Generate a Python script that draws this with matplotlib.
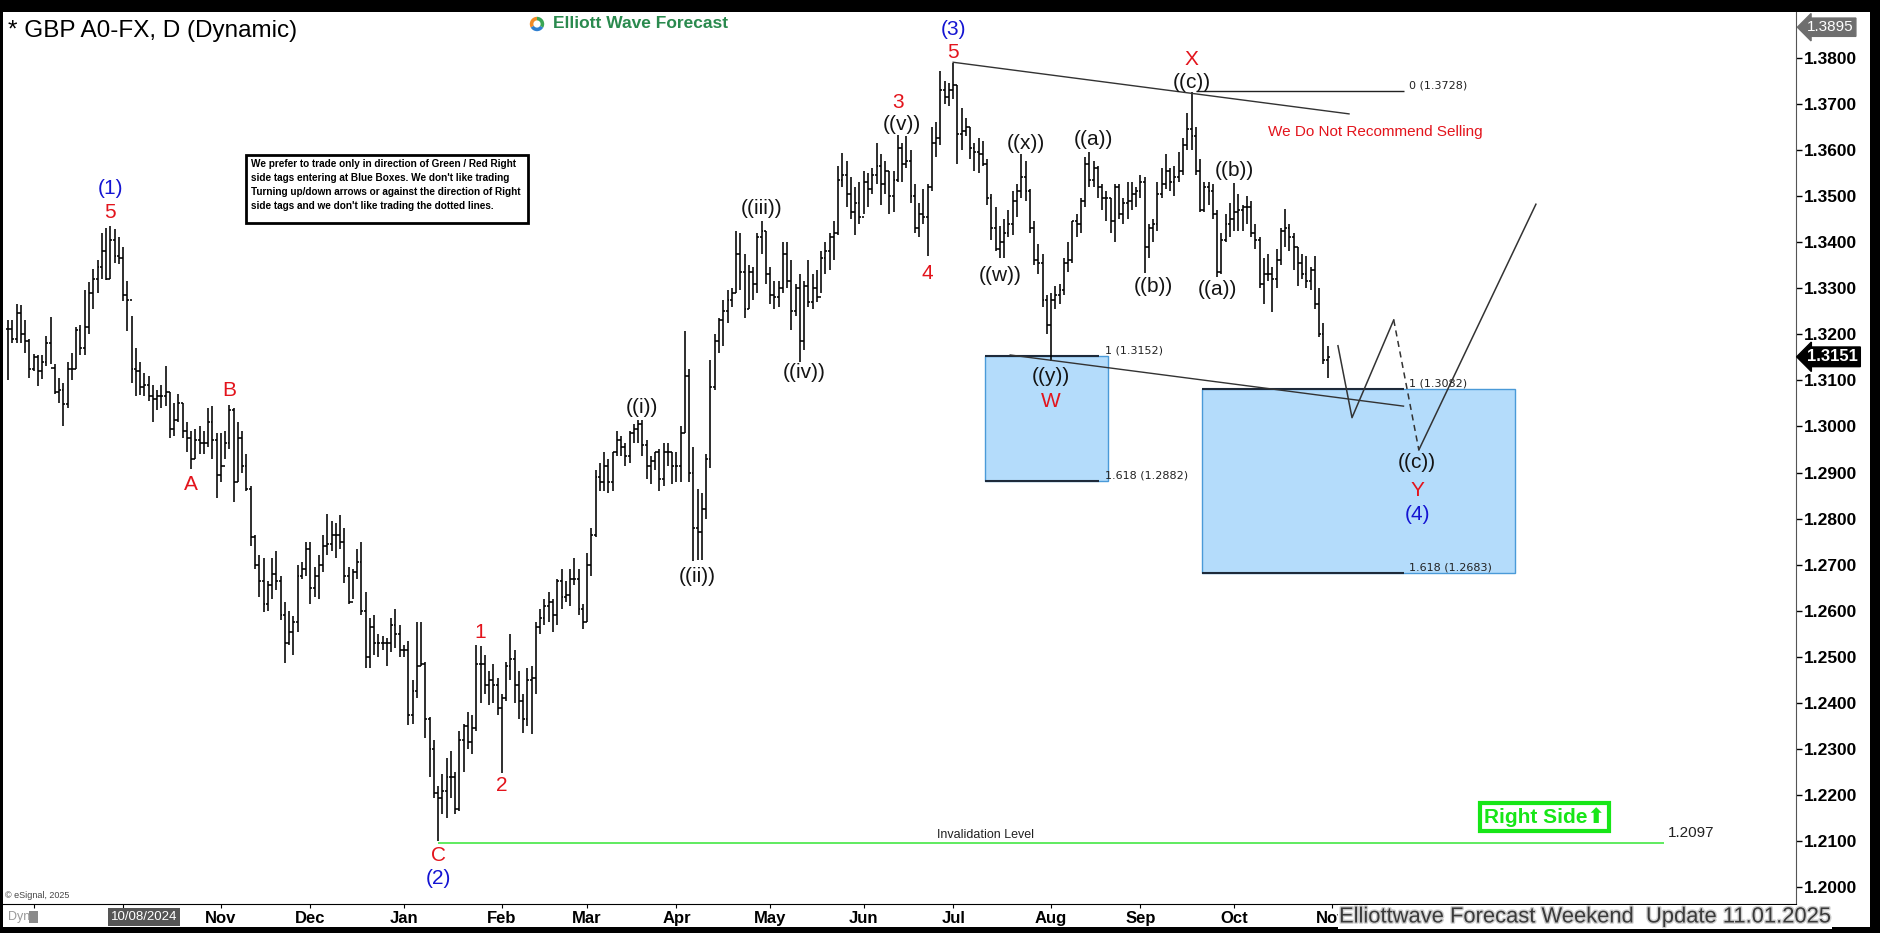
"""
GBP/USD daily bars with Elliott Wave count (weekend update 11.01.2025).
"""

import numpy as np
import pandas as pd
import matplotlib
matplotlib.use('Agg')
import matplotlib.pyplot as plt
from matplotlib.patches import Rectangle
from matplotlib import patheffects
from matplotlib.transforms import blended_transform_factory

plt.rcParams['font.family'] = ['Liberation Sans', 'DejaVu Sans']

# daily bars as (high, low, close), one list per month
aug24 = [(1.3230, 1.3100, 1.3212), (1.3230, 1.3180, 1.3190), (1.3266, 1.3180, 1.3245),
         (1.3264, 1.3180, 1.3200), (1.3230, 1.3160, 1.3185), (1.3190, 1.3105, 1.3125)]
sep24 = [(1.3157, 1.3120, 1.3150), (1.3155, 1.3088, 1.3120), (1.3155, 1.3103, 1.3140),
         (1.3197, 1.3130, 1.3180), (1.3238, 1.3135, 1.3127), (1.3135, 1.3070, 1.3075),
         (1.3105, 1.3050, 1.3080), (1.3095, 1.3002, 1.3048), (1.3139, 1.3040, 1.3125),
         (1.3160, 1.3100, 1.3125), (1.3215, 1.3125, 1.3210), (1.3220, 1.3155, 1.3170),
         (1.3297, 1.3155, 1.3215), (1.3314, 1.3200, 1.3290), (1.3342, 1.3255, 1.3320),
         (1.3360, 1.3290, 1.3345), (1.3420, 1.3320, 1.3380), (1.3430, 1.3318, 1.3320),
         (1.3434, 1.3320, 1.3405), (1.3428, 1.3354, 1.3370), (1.3410, 1.3353, 1.3365)]
oct24 = [(1.3390, 1.3271, 1.3285), (1.3315, 1.3207, 1.3275), (1.3240, 1.3095, 1.3125),
         (1.3170, 1.3067, 1.3120), (1.3140, 1.3068, 1.3085), (1.3115, 1.3066, 1.3090),
         (1.3110, 1.3055, 1.3065), (1.3090, 1.3010, 1.3060), (1.3080, 1.3035, 1.3065),
         (1.3090, 1.3040, 1.3065), (1.3130, 1.3045, 1.3075), (1.3075, 1.2975, 1.2995),
         (1.3050, 1.2980, 1.3015), (1.3070, 1.3010, 1.3050), (1.3050, 1.2975, 1.2990),
         (1.3010, 1.2945, 1.2975), (1.2990, 1.2907, 1.2930), (1.2995, 1.2930, 1.2970),
         (1.3000, 1.2940, 1.2965), (1.2990, 1.2940, 1.2965), (1.3040, 1.2955, 1.3010),
         (1.3045, 1.2930, 1.2970), (1.2985, 1.2845, 1.2895)]
nov24 = [(1.2985, 1.2880, 1.2915), (1.2990, 1.2930, 1.2965), (1.3047, 1.2950, 1.3035),
         (1.3040, 1.2835, 1.2880), (1.3010, 1.2880, 1.2975), (1.2990, 1.2900, 1.2915),
         (1.2940, 1.2860, 1.2865), (1.2870, 1.2740, 1.2760), (1.2765, 1.2690, 1.2700),
         (1.2720, 1.2630, 1.2665), (1.2715, 1.2597, 1.2615), (1.2665, 1.2600, 1.2655),
         (1.2715, 1.2625, 1.2680), (1.2730, 1.2645, 1.2665), (1.2675, 1.2580, 1.2590),
         (1.2620, 1.2487, 1.2530), (1.2600, 1.2525, 1.2555), (1.2588, 1.2505, 1.2575),
         (1.2700, 1.2555, 1.2675), (1.2705, 1.2670, 1.2690), (1.2750, 1.2675, 1.2735)]
dec24 = [(1.2750, 1.2615, 1.2650), (1.2695, 1.2630, 1.2675), (1.2720, 1.2625, 1.2700),
         (1.2765, 1.2685, 1.2740), (1.2811, 1.2720, 1.2745), (1.2795, 1.2730, 1.2765),
         (1.2790, 1.2715, 1.2765), (1.2808, 1.2735, 1.2750), (1.2780, 1.2660, 1.2675),
         (1.2695, 1.2615, 1.2620), (1.2690, 1.2625, 1.2685), (1.2735, 1.2670, 1.2705),
         (1.2750, 1.2590, 1.2600), (1.2640, 1.2475, 1.2500), (1.2585, 1.2475, 1.2565),
         (1.2590, 1.2505, 1.2530), (1.2550, 1.2500, 1.2530), (1.2545, 1.2515, 1.2530),
         (1.2540, 1.2480, 1.2530), (1.2585, 1.2510, 1.2570), (1.2605, 1.2520, 1.2550),
         (1.2570, 1.2500, 1.2515)]
jan25 = [(1.2525, 1.2500, 1.2515), (1.2535, 1.2352, 1.2375), (1.2450, 1.2355, 1.2425),
         (1.2575, 1.2410, 1.2480), (1.2575, 1.2480, 1.2485), (1.2490, 1.2325, 1.2365),
         (1.2370, 1.2240, 1.2300), (1.2320, 1.2195, 1.2205), (1.2220, 1.2100, 1.2195),
         (1.2245, 1.2160, 1.2210), (1.2280, 1.2150, 1.2240), (1.2295, 1.2195, 1.2240),
         (1.2250, 1.2160, 1.2170), (1.2340, 1.2165, 1.2320), (1.2355, 1.2250, 1.2350),
         (1.2380, 1.2300, 1.2315), (1.2375, 1.2290, 1.2345), (1.2525, 1.2340, 1.2485),
         (1.2523, 1.2400, 1.2485), (1.2505, 1.2420, 1.2440), (1.2470, 1.2395, 1.2450),
         (1.2485, 1.2400, 1.2440), (1.2455, 1.2375, 1.2390)]
feb25 = [(1.2420, 1.2249, 1.2410), (1.2490, 1.2405, 1.2480), (1.2550, 1.2450, 1.2495),
         (1.2515, 1.2400, 1.2440), (1.2470, 1.2365, 1.2405), (1.2420, 1.2335, 1.2365),
         (1.2475, 1.2350, 1.2450), (1.2480, 1.2333, 1.2455), (1.2575, 1.2420, 1.2565),
         (1.2605, 1.2550, 1.2585), (1.2625, 1.2570, 1.2610), (1.2640, 1.2575, 1.2620),
         (1.2625, 1.2555, 1.2590), (1.2670, 1.2570, 1.2665), (1.2690, 1.2605, 1.2630),
         (1.2665, 1.2620, 1.2635), (1.2690, 1.2610, 1.2670), (1.2715, 1.2655, 1.2670),
         (1.2690, 1.2590, 1.2605), (1.2615, 1.2560, 1.2575)]
mar25 = [(1.2725, 1.2575, 1.2700), (1.2780, 1.2675, 1.2765), (1.2905, 1.2760, 1.2890),
         (1.2920, 1.2860, 1.2880), (1.2945, 1.2860, 1.2915), (1.2930, 1.2855, 1.2880),
         (1.2945, 1.2860, 1.2945), (1.2990, 1.2935, 1.2970), (1.2980, 1.2935, 1.2955),
         (1.2965, 1.2915, 1.2935), (1.2990, 1.2920, 1.2985), (1.3005, 1.2965, 1.2995),
         (1.3015, 1.2965, 1.3005), (1.3015, 1.2935, 1.2960), (1.2970, 1.2885, 1.2915),
         (1.2935, 1.2875, 1.2925), (1.2945, 1.2905, 1.2945), (1.2950, 1.2860, 1.2885),
         (1.2965, 1.2870, 1.2945), (1.2965, 1.2915, 1.2945), (1.2945, 1.2875, 1.2915)]
apr25 = [(1.2945, 1.2880, 1.2915), (1.3000, 1.2880, 1.2985), (1.3207, 1.2985, 1.3110),
         (1.3125, 1.2880, 1.2900), (1.2955, 1.2708, 1.2780), (1.2865, 1.2710, 1.2770),
         (1.2855, 1.2710, 1.2820), (1.2940, 1.2800, 1.2930), (1.3145, 1.2910, 1.3085),
         (1.3200, 1.3080, 1.3185), (1.3235, 1.3160, 1.3230), (1.3275, 1.3175, 1.3250),
         (1.3295, 1.3225, 1.3275), (1.3300, 1.3260, 1.3290), (1.3423, 1.3290, 1.3375),
         (1.3420, 1.3295, 1.3335), (1.3375, 1.3235, 1.3255), (1.3350, 1.3255, 1.3335),
         (1.3345, 1.3275, 1.3310), (1.3420, 1.3290, 1.3410), (1.3445, 1.3375, 1.3425),
         (1.3425, 1.3310, 1.3330)]
may25 = [(1.3345, 1.3265, 1.3285), (1.3315, 1.3255, 1.3280), (1.3315, 1.3260, 1.3300),
         (1.3400, 1.3290, 1.3375), (1.3400, 1.3300, 1.3315), (1.3360, 1.3210, 1.3250),
         (1.3310, 1.3240, 1.3300), (1.3330, 1.3139, 1.3185), (1.3315, 1.3165, 1.3305),
         (1.3360, 1.3260, 1.3270), (1.3330, 1.3255, 1.3300), (1.3340, 1.3270, 1.3280),
         (1.3380, 1.3290, 1.3365), (1.3400, 1.3330, 1.3380), (1.3420, 1.3340, 1.3410),
         (1.3445, 1.3360, 1.3420), (1.3565, 1.3415, 1.3535), (1.3593, 1.3520, 1.3545),
         (1.3575, 1.3475, 1.3505), (1.3540, 1.3450, 1.3465), (1.3520, 1.3415, 1.3485),
         (1.3530, 1.3440, 1.3455)]
jun25 = [(1.3555, 1.3460, 1.3530), (1.3550, 1.3475, 1.3515), (1.3560, 1.3505, 1.3545),
         (1.3615, 1.3525, 1.3565), (1.3590, 1.3480, 1.3525), (1.3575, 1.3505, 1.3555),
         (1.3555, 1.3460, 1.3500), (1.3555, 1.3465, 1.3535), (1.3632, 1.3530, 1.3605),
         (1.3615, 1.3530, 1.3570), (1.3630, 1.3560, 1.3575), (1.3600, 1.3485, 1.3500),
         (1.3525, 1.3420, 1.3430), (1.3485, 1.3410, 1.3460), (1.3515, 1.3440, 1.3455),
         (1.3525, 1.3370, 1.3520), (1.3650, 1.3510, 1.3615), (1.3660, 1.3585, 1.3625),
         (1.3770, 1.3610, 1.3730), (1.3750, 1.3700, 1.3715), (1.3745, 1.3695, 1.3730)]
jul25 = [(1.3788, 1.3710, 1.3740), (1.3740, 1.3570, 1.3635), (1.3690, 1.3600, 1.3640),
         (1.3670, 1.3630, 1.3650), (1.3650, 1.3580, 1.3605), (1.3615, 1.3555, 1.3595),
         (1.3625, 1.3550, 1.3590), (1.3620, 1.3565, 1.3570), (1.3580, 1.3480, 1.3495),
         (1.3505, 1.3405, 1.3430), (1.3475, 1.3380, 1.3385), (1.3435, 1.3365, 1.3400),
         (1.3450, 1.3365, 1.3420), (1.3470, 1.3410, 1.3440), (1.3510, 1.3415, 1.3490),
         (1.3525, 1.3455, 1.3510), (1.3590, 1.3495, 1.3540), (1.3575, 1.3490, 1.3510),
         (1.3515, 1.3420, 1.3430), (1.3445, 1.3350, 1.3360), (1.3395, 1.3330, 1.3355),
         (1.3375, 1.3260, 1.3275), (1.3285, 1.3200, 1.3220)]
aug25 = [(1.3290, 1.3142, 1.3275), (1.3305, 1.3255, 1.3285), (1.3310, 1.3265, 1.3295),
         (1.3365, 1.3285, 1.3355), (1.3400, 1.3335, 1.3360), (1.3445, 1.3355, 1.3445),
         (1.3460, 1.3410, 1.3440), (1.3495, 1.3420, 1.3490), (1.3585, 1.3475, 1.3570),
         (1.3595, 1.3520, 1.3535), (1.3575, 1.3520, 1.3560), (1.3565, 1.3495, 1.3520),
         (1.3525, 1.3470, 1.3495), (1.3510, 1.3445, 1.3495), (1.3495, 1.3420, 1.3445),
         (1.3525, 1.3400, 1.3520), (1.3525, 1.3450, 1.3460), (1.3495, 1.3440, 1.3485),
         (1.3530, 1.3450, 1.3490), (1.3530, 1.3470, 1.3505), (1.3520, 1.3475, 1.3510)]
sep25 = [(1.3545, 1.3495, 1.3530), (1.3540, 1.3333, 1.3390), (1.3440, 1.3365, 1.3430),
         (1.3450, 1.3400, 1.3440), (1.3530, 1.3425, 1.3505), (1.3560, 1.3495, 1.3525),
         (1.3590, 1.3515, 1.3555), (1.3560, 1.3510, 1.3530), (1.3565, 1.3500, 1.3540),
         (1.3595, 1.3530, 1.3555), (1.3625, 1.3545, 1.3610), (1.3680, 1.3600, 1.3645),
         (1.3726, 1.3600, 1.3630), (1.3650, 1.3545, 1.3555), (1.3580, 1.3465, 1.3470),
         (1.3530, 1.3465, 1.3520), (1.3530, 1.3480, 1.3510), (1.3525, 1.3450, 1.3460),
         (1.3470, 1.3324, 1.3335), (1.3420, 1.3330, 1.3405), (1.3460, 1.3400, 1.3440),
         (1.3485, 1.3410, 1.3450)]
oct25 = [(1.3527, 1.3425, 1.3465), (1.3505, 1.3425, 1.3470), (1.3480, 1.3425, 1.3475),
         (1.3500, 1.3440, 1.3475), (1.3490, 1.3410, 1.3420), (1.3440, 1.3385, 1.3405),
         (1.3410, 1.3300, 1.3310), (1.3365, 1.3265, 1.3330), (1.3375, 1.3315, 1.3330),
         (1.3345, 1.3248, 1.3320), (1.3385, 1.3300, 1.3360), (1.3430, 1.3350, 1.3425),
         (1.3471, 1.3390, 1.3430), (1.3440, 1.3380, 1.3410), (1.3420, 1.3340, 1.3390),
         (1.3390, 1.3305, 1.3355), (1.3375, 1.3320, 1.3330), (1.3370, 1.3300, 1.3315),
         (1.3345, 1.3295, 1.3340), (1.3370, 1.3255, 1.3265), (1.3300, 1.3195, 1.3200),
         (1.3225, 1.3135, 1.3145), (1.3175, 1.3106, 1.3151)]

first_day = '2024-08-23'
last_price = 1.3151
top_tag = 1.3895
invalidation = 1.2097

# fib levels of the two blue boxes and the X high
box_w = (1.3152, 1.2882)
box_y = (1.3082, 1.2683)
x_high = 1.3728

# wave labels: text, bar date, price, colour key
wave_labels = [
    ('(1)', '2024-09-26', 1.3517, 'b'), ('5', '2024-09-26', 1.3465, 'r'),
    ('A', '2024-10-23', 1.2873, 'r'), ('B', '2024-11-05', 1.3077, 'r'),
    ('C', '2025-01-13', 1.2070, 'r'), ('(2)', '2025-01-13', 1.2020, 'b'),
    ('1', '2025-01-27', 1.2554, 'r'), ('2', '2025-02-03', 1.2220, 'r'),
    ('((i))', '2025-03-20', 1.3040, 'k'), ('((ii))', '2025-04-08', 1.2675, 'k'),
    ('((iii))', '2025-04-29', 1.3473, 'k'), ('((iv))', '2025-05-13', 1.3116, 'k'),
    ('((v))', '2025-06-13', 1.3656, 'k'), ('3', '2025-06-12', 1.3702, 'r'),
    ('4', '2025-06-23', 1.3331, 'r'), ('5', '2025-07-01', 1.3812, 'r'),
    ('(3)', '2025-07-01', 1.3860, 'b'), ('((w))', '2025-07-16', 1.3328, 'k'),
    ('((x))', '2025-07-24', 1.3613, 'k'), ('((y))', '2025-08-01', 1.3109, 'k'),
    ('W', '2025-08-01', 1.3055, 'r'), ('((a))', '2025-08-15', 1.3623, 'k'),
    ('((b))', '2025-09-04', 1.3304, 'k'), ('X', '2025-09-17', 1.3797, 'r'),
    ('((c))', '2025-09-17', 1.3747, 'k'), ('((a))', '2025-09-25', 1.3296, 'k'),
    ('((b))', '2025-10-01', 1.3556, 'k'), ('((c))', '2025-12-01', 1.2921, 'k'),
    ('Y', '2025-12-01', 1.2862, 'r'), ('(4)', '2025-12-01', 1.2810, 'b'),
]

# projected path (bar position, price)
path_x = [312.4, 315.7, 325.5]
path_y = [1.3175, 1.3019, 1.3231]
dash_x = [325.5, 331.4]
dash_y = [1.3231, 1.2949]
up_x = [331.4, 358.9]
up_y = [1.2949, 1.3482]

COLORS = {'r': '#e3141c', 'b': '#1414d2', 'k': '#141414'}

bars = (aug24 + sep24 + oct24 + nov24 + dec24 + jan25 + feb25 + mar25 + apr25
        + may25 + jun25 + jul25 + aug25 + sep25 + oct25)
highs = np.array([b[0] for b in bars])
lows = np.array([b[1] for b in bars])
closes = np.array([b[2] for b in bars])
opens = np.r_[closes[0], closes[:-1]]   # FX bars open where the prior one closed
n = len(bars)
x = np.arange(n)
dates = pd.bdate_range(first_day, periods=n + 140)


def bar_at(day):
    return dates.get_loc(pd.Timestamp(day))


W, H = 1881, 933
fig = plt.figure(figsize=(W / 100, H / 100), dpi=100, facecolor='black')
fig.patches.append(Rectangle((3 / W, 6 / H), 1867 / W, 915 / H, transform=fig.transFigure,
                             facecolor='white', edgecolor='none', zorder=-10))
ax = fig.add_axes([3 / W, 29 / H, 1793 / W, 892 / H])
ax.set_facecolor('white')
ax.set_xlim(-1.2, 420)
ax.set_ylim(1.1964, 1.3899)

# OHLC bars
ax.vlines(x, lows, highs, color='black', lw=1.15, zorder=3)
ax.hlines(opens, x - 0.45, x, color='black', lw=1.15, zorder=3)
ax.hlines(closes, x, x + 0.45, color='black', lw=1.15, zorder=3)

# blue boxes with fib levels
for (top, bot), (x0, x1, xl) in [(box_w, (229.5, 258.4, 256.3)),
                                 (box_y, (280.4, 353.9, 327.8))]:
    ax.add_patch(Rectangle((x0, bot), x1 - x0, top - bot, facecolor='#b4dcfb',
                           edgecolor='#4a9ad8', lw=1.0, zorder=1))
    ax.hlines([top, bot], x0, xl, color='#1e2a3a', lw=1.5, zorder=2)
    ax.text(xl + 1.3, top + 0.0012, '1 (%.4f)' % top, fontsize=8, family='DejaVu Sans',
            va='center', ha='left', color='#222222')
    ax.text(xl + 1.3, bot + 0.0012, '1.618 (%.4f)' % bot, fontsize=8,
            family='DejaVu Sans', va='center', ha='left', color='#222222')

# trend lines and X level
ax.plot([222, 315], [1.3790, 1.3678], color='#333333', lw=1.0, zorder=4)
ax.plot([235.4, 327.8], [1.3155, 1.3044], color='#333333', lw=1.0, zorder=4)
ax.hlines(x_high, 279, 327.8, color='#222222', lw=1.0, zorder=4)
ax.text(329.2, x_high + 0.0012, '0 (%.4f)' % x_high, fontsize=8, family='DejaVu Sans',
        va='center', ha='left', color='#222222')
ax.text(295.9, 1.3638, 'We Do Not Recommend Selling', color='#e3141c', fontsize=11,
        va='center', ha='left')

# projected path
ax.plot(path_x, path_y, color='#333333', lw=1.1, zorder=4)
ax.plot(dash_x, dash_y, color='#333333', lw=1.1, ls=(0, (4, 3)), zorder=4)
ax.plot(up_x, up_y, color='#333333', lw=1.1, zorder=4)

# invalidation level
c_bar = bar_at('2025-01-13')
ax.hlines(invalidation, c_bar, 389, color='#44e844', lw=1.2, zorder=2)
ax.text(229.7, invalidation + 0.0004, 'Invalidation Level', fontsize=9, ha='center',
        va='bottom', color='#222222')
ax.text(390, invalidation + 0.0021, '%.4f' % invalidation, fontsize=11, ha='left',
        va='center', color='#222222')

# right side tag
ax.text(360.9, 1.2152, 'Right Side\u2b06', fontsize=15, fontweight='bold',
        color='#17e617', ha='center', va='center',
        bbox=dict(boxstyle='square,pad=0.2', facecolor='white', edgecolor='#17e617', lw=3))

# wave labels
for text, day, price, col in wave_labels:
    ax.text(bar_at(day), price, text, fontsize=15, color=COLORS[col], ha='center',
            va='center', zorder=5)

# axes styling
for side in ['top', 'left']:
    ax.spines[side].set_visible(False)
ax.spines['right'].set_color('#555555')
ax.spines['bottom'].set_color('black')
ax.yaxis.tick_right()
yt = np.arange(1.20, 1.3801, 0.01)
ax.set_yticks(yt)
ax.set_yticklabels(['%.4f' % v for v in yt])
ax.tick_params(axis='y', direction='out', length=4, width=1, pad=2, labelsize=12.5,
               colors='black')
for lab in ax.get_yticklabels():
    lab.set_fontweight('bold')

# month ticks up to the first one after the last bar
month_starts = [i for i in range(1, n + 5) if dates[i].month != dates[i - 1].month]
ax.set_xticks(month_starts)
ax.set_xticklabels(['' if i == month_starts[0] else dates[i].strftime('%b')
                    for i in month_starts])
ax.tick_params(axis='x', direction='out', length=3, pad=2, labelsize=12)
for lab in ax.get_xticklabels():
    lab.set_fontweight('bold')

# price tags on the axis
blend = blended_transform_factory(ax.transAxes, ax.transData)
ax.text(1.0062, last_price, '%.4f' % last_price, transform=blend, color='white',
        fontsize=12, fontweight='bold', va='center', ha='left', clip_on=False,
        bbox=dict(boxstyle='larrow,pad=0.14', facecolor='black', edgecolor='black'))
ax.text(1.0062, 1.3866, '%.4f' % top_tag, transform=blend, color='white',
        fontsize=11, va='center', ha='left', clip_on=False,
        bbox=dict(boxstyle='larrow,pad=0.14', facecolor='#6e6e6e', edgecolor='#6e6e6e'))

# header, logo and notes
fig.text(8 / W, 1 - 31 / H, '* GBP A0-FX, D (Dynamic)', fontsize=17.5, va='center')
logo = fig.add_axes([528 / W, 1 - 33 / H, 18 / W, 18 / H])
logo.pie([1, 1, 1], colors=['#f28c28', '#2f7fd0', '#3aa655'], startangle=90,
         wedgeprops=dict(width=0.5))
logo.set_aspect('equal')
fig.text(553 / W, 1 - 24 / H, 'Elliott Wave Forecast', fontsize=12.5, fontweight='bold',
         color='#2a8a4e', va='center')

fig.patches.append(Rectangle((246 / W, 1 - 223 / H), 282 / W, 68 / H,
                             transform=fig.transFigure, facecolor='white',
                             edgecolor='black', lw=2))
fig.text(251 / W, 1 - 159 / H,
         "We prefer to trade only in direction of Green / Red Right\n"
         "side tags entering at Blue Boxes. We don't like trading\n"
         "Turning up/down arrows or against the direction of Right\n"
         "side tags and we don't like trading the dotted lines.",
         fontsize=7.2, fontweight='bold', va='top', ha='left', linespacing=1.5)

fig.text(5 / W, 1 - 895 / H, '\u00a9 eSignal, 2025', fontsize=6.5, color='#444444',
         va='center')
fig.text(8 / W, 1 - 917 / H, 'Dyn', fontsize=9, color='#9a9a9a', va='center')
fig.patches.append(Rectangle((29 / W, 1 - 923 / H), 9 / W, 12 / H,
                             transform=fig.transFigure, facecolor='#8a8a8a',
                             edgecolor='none'))
fig.text(144 / W, 1 - 917 / H, '10/08/2024', fontsize=9.5, color='white', ha='center',
         va='center', bbox=dict(boxstyle='square,pad=0.25', facecolor='#555555',
                                edgecolor='none'))
fig.text(1339 / W, 1 - 917 / H, 'Elliottwave Forecast Weekend  Update 11.01.2025',
         fontsize=15.8, color='#3a3a3a', va='center', ha='left',
         bbox=dict(boxstyle='square,pad=0.05', facecolor='white', edgecolor='none'),
         path_effects=[patheffects.withStroke(linewidth=2, foreground='#d0d0d0')])

fig.savefig('out.png', dpi=100, facecolor='black')
plt.close(fig)
